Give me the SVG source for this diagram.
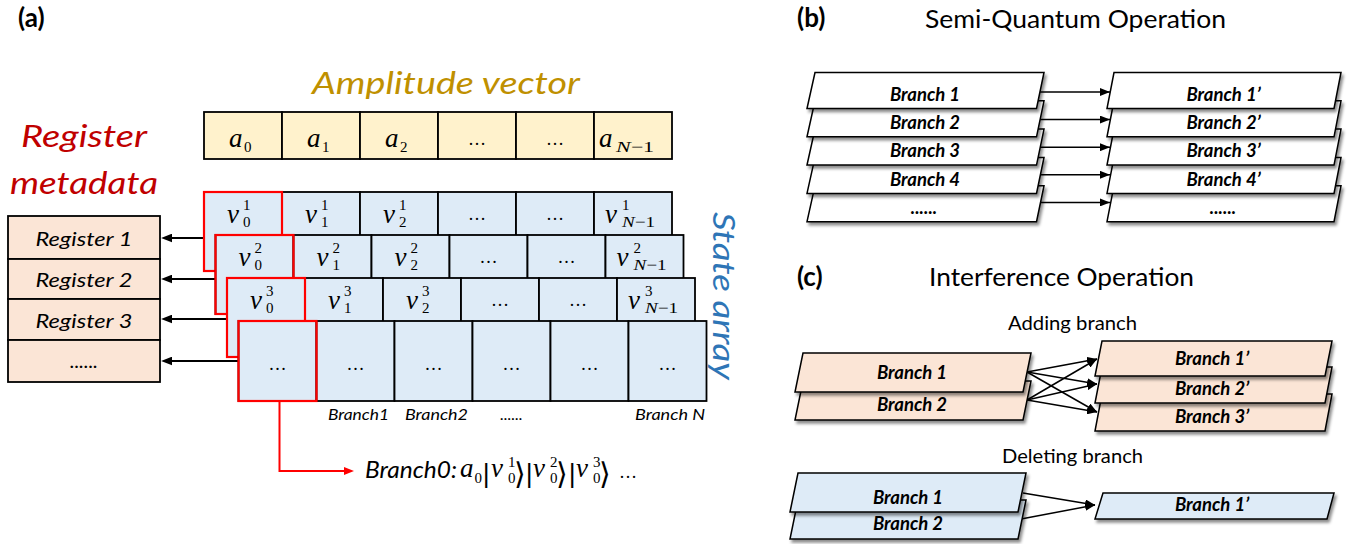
<svg xmlns="http://www.w3.org/2000/svg" width="1364" height="544" viewBox="0 0 1364 544">
<defs>
<style>
.hd{font-family:Lato,"Liberation Sans",sans-serif;font-weight:bold;font-size:26px}
.cap{font-family:Lato,"Liberation Sans",sans-serif;font-size:25px;text-anchor:middle}
.sub{font-family:Lato,"Liberation Sans",sans-serif;font-size:20px;text-anchor:middle}
.big{font-family:Lato,"Liberation Sans",sans-serif;font-style:italic;font-size:30px;text-anchor:middle}
.amp{fill:#FFF2CC;stroke:#000;stroke-width:1.8}
.cell{fill:#DEEBF7;stroke:#000;stroke-width:1.8}
.redb{fill:none;stroke:#FF0000;stroke-width:2.2}
.reg{fill:#FBE5D6;stroke:#000;stroke-width:1.8}
.pw{fill:#FFFFFF;stroke:#000;stroke-width:1.5;filter:url(#sh)}
.pp{fill:#FBE5D6;stroke:#000;stroke-width:1.5;filter:url(#sh)}
.pb{fill:#DEEBF7;stroke:#000;stroke-width:1.5;filter:url(#sh)}
.bl{font-family:Lato,"Liberation Sans",sans-serif;font-weight:bold;font-style:italic;font-size:18.5px;text-anchor:middle;fill:#000}
.mv{font-family:"Liberation Serif",serif;font-style:italic;font-size:27px}
.md{font-family:"Liberation Serif",serif;font-size:15px}
.el{font-family:"Liberation Serif",serif;font-size:18px;text-anchor:middle}
.bar{font-family:"DejaVu Sans",sans-serif;font-size:25px}
.ang{font-family:"DejaVu Sans",sans-serif;font-size:30px}
.rt{font-family:Lato,"Liberation Sans",sans-serif;font-style:italic;font-size:20px;text-anchor:middle}
.bt{font-family:Lato,"Liberation Sans",sans-serif;font-style:italic;font-size:16px;text-anchor:middle}
.ln{fill:none;stroke:#000;stroke-width:1.5;marker-end:url(#ah)}
.lnb{fill:none;stroke:#000;stroke-width:2;marker-end:url(#ahL)}
.lnr{fill:none;stroke:#FF0000;stroke-width:2;marker-end:url(#ahR)}
</style>
<filter id="sh" x="-5%" y="-20%" width="115%" height="170%">
<feDropShadow dx="2" dy="3" stdDeviation="1.6" flood-color="#000" flood-opacity="0.45"/>
</filter>
<marker id="ah" viewBox="0 0 10 8" refX="10" refY="4" markerWidth="10" markerHeight="8" markerUnits="userSpaceOnUse" orient="auto"><path d="M0,0 L10,4 L0,8 z" fill="#000"/></marker>
<marker id="ahL" viewBox="0 0 10 8" refX="1" refY="4" markerWidth="11" markerHeight="9" markerUnits="userSpaceOnUse" orient="auto"><path d="M0,0 L10,4 L0,8 z" fill="#000"/></marker>
<marker id="ahR" viewBox="0 0 10 8" refX="1" refY="4" markerWidth="10" markerHeight="8" markerUnits="userSpaceOnUse" orient="auto"><path d="M0,0 L10,4 L0,8 z" fill="#FF0000"/></marker>
</defs>
<rect x="0" y="0" width="1364" height="544" fill="#FFFFFF"/>

<!-- ===== (a) ===== -->
<g id="label-a"><text class="hd" x="18" y="27">(a)</text></g>
<g id="amplitude-title"><text class="big" x="446" y="94" fill="#BF9000" textLength="268" lengthAdjust="spacingAndGlyphs">Amplitude vector</text></g>
<g id="register-title">
<text class="big" x="84" y="147" fill="#C00000" font-size="32" textLength="126" lengthAdjust="spacingAndGlyphs">Register</text>
<text class="big" x="84" y="194" fill="#C00000" font-size="32" textLength="148" lengthAdjust="spacingAndGlyphs">metadata</text>
</g>
<g id="state-array-title"><text class="big" transform="translate(713,296) rotate(90)" fill="#2E75B6" font-size="31" textLength="168" lengthAdjust="spacingAndGlyphs">State array</text></g>

<g id="connectors-a">
<line class="lnb" x1="204" y1="238" x2="171" y2="238"/>
<line class="lnb" x1="215.5" y1="279" x2="171" y2="279"/>
<line class="lnb" x1="227" y1="319" x2="171" y2="319"/>
<line class="lnb" x1="238.5" y1="361" x2="171" y2="361"/>
<polyline class="lnr" points="279.5,401 279.5,471 345,471"/>
</g>

<!-- amplitude vector -->
<g id="amp-0"><rect class="amp" x="204" y="112" width="78" height="47"/><text class="mv" x="229" y="147">a</text><text class="md" x="244" y="152">0</text></g>
<g id="amp-1"><rect class="amp" x="282" y="112" width="78" height="47"/><text class="mv" x="307" y="147">a</text><text class="md" x="322" y="152">1</text></g>
<g id="amp-2"><rect class="amp" x="360" y="112" width="78" height="47"/><text class="mv" x="385" y="147">a</text><text class="md" x="400" y="152">2</text></g>
<g id="amp-3"><rect class="amp" x="438" y="112" width="78" height="47"/><text class="el" x="477" y="145">…</text></g>
<g id="amp-4"><rect class="amp" x="516" y="112" width="78" height="47"/><text class="el" x="555" y="145">…</text></g>
<g id="amp-5"><rect class="amp" x="594" y="112" width="78" height="47"/><text class="mv" x="599" y="147">a</text><text class="md" x="616" y="152" font-size="17" textLength="38" lengthAdjust="spacingAndGlyphs"><tspan font-style="italic">N</tspan>−1</text></g>

<!-- register metadata table -->
<g id="register-1"><rect class="reg" x="8" y="216" width="152" height="43"/><text class="rt" x="84" y="246" textLength="97" lengthAdjust="spacingAndGlyphs">Register 1</text></g>
<g id="register-2"><rect class="reg" x="8" y="259" width="152" height="40"/><text class="rt" x="84" y="287" textLength="97" lengthAdjust="spacingAndGlyphs">Register 2</text></g>
<g id="register-3"><rect class="reg" x="8" y="299" width="152" height="41"/><text class="rt" x="84" y="328" textLength="97" lengthAdjust="spacingAndGlyphs">Register 3</text></g>
<g id="register-4"><rect class="reg" x="8" y="340" width="152" height="42"/><text class="rt" x="84" y="368">......</text></g>

<!-- state array row 1 -->
<g id="state-row-1">
<rect class="cell" x="204" y="192" width="78" height="79"/>
<rect class="cell" x="282" y="192" width="78" height="79"/>
<rect class="cell" x="360" y="192" width="78" height="79"/>
<rect class="cell" x="438" y="192" width="78" height="79"/>
<rect class="cell" x="516" y="192" width="78" height="79"/>
<rect class="cell" x="594" y="192" width="78" height="79"/>
<rect class="redb" x="204" y="192" width="78" height="79"/>
<text class="mv" x="227" y="222.5">v</text><text class="md" x="243" y="209.5">1</text><text class="md" x="243" y="226.5">0</text>
<text class="mv" x="305" y="222.5">v</text><text class="md" x="321" y="209.5">1</text><text class="md" x="321" y="226.5">1</text>
<text class="mv" x="383" y="222.5">v</text><text class="md" x="399" y="209.5">1</text><text class="md" x="399" y="226.5">2</text>
<text class="el" x="477" y="219.5">…</text><text class="el" x="555" y="219.5">…</text>
<text class="mv" x="605" y="222.5">v</text><text class="md" x="622" y="209.5">1</text><text class="md" x="622" y="226.5" textLength="33" lengthAdjust="spacingAndGlyphs"><tspan font-style="italic">N</tspan>−1</text>
</g>
<!-- row 2 -->
<g id="state-row-2">
<rect class="cell" x="215.5" y="235" width="78" height="79"/>
<rect class="cell" x="293.5" y="235" width="78" height="79"/>
<rect class="cell" x="371.5" y="235" width="78" height="79"/>
<rect class="cell" x="449.5" y="235" width="78" height="79"/>
<rect class="cell" x="527.5" y="235" width="78" height="79"/>
<rect class="cell" x="605.5" y="235" width="78" height="79"/>
<rect class="redb" x="215.5" y="235" width="78" height="79"/>
<text class="mv" x="238.5" y="265.5">v</text><text class="md" x="254.5" y="252.5">2</text><text class="md" x="254.5" y="269.5">0</text>
<text class="mv" x="316.5" y="265.5">v</text><text class="md" x="332.5" y="252.5">2</text><text class="md" x="332.5" y="269.5">1</text>
<text class="mv" x="394.5" y="265.5">v</text><text class="md" x="410.5" y="252.5">2</text><text class="md" x="410.5" y="269.5">2</text>
<text class="el" x="488.5" y="262.5">…</text><text class="el" x="566.5" y="262.5">…</text>
<text class="mv" x="616.5" y="265.5">v</text><text class="md" x="633.5" y="252.5">2</text><text class="md" x="633.5" y="269.5" textLength="33" lengthAdjust="spacingAndGlyphs"><tspan font-style="italic">N</tspan>−1</text>
</g>
<!-- row 3 -->
<g id="state-row-3">
<rect class="cell" x="227" y="278" width="78" height="79"/>
<rect class="cell" x="305" y="278" width="78" height="79"/>
<rect class="cell" x="383" y="278" width="78" height="79"/>
<rect class="cell" x="461" y="278" width="78" height="79"/>
<rect class="cell" x="539" y="278" width="78" height="79"/>
<rect class="cell" x="617" y="278" width="78" height="79"/>
<rect class="redb" x="227" y="278" width="78" height="79"/>
<text class="mv" x="250" y="308.5">v</text><text class="md" x="266" y="295.5">3</text><text class="md" x="266" y="312.5">0</text>
<text class="mv" x="328" y="308.5">v</text><text class="md" x="344" y="295.5">3</text><text class="md" x="344" y="312.5">1</text>
<text class="mv" x="406" y="308.5">v</text><text class="md" x="422" y="295.5">3</text><text class="md" x="422" y="312.5">2</text>
<text class="el" x="500" y="305.5">…</text><text class="el" x="578" y="305.5">…</text>
<text class="mv" x="628" y="308.5">v</text><text class="md" x="645" y="295.5">3</text><text class="md" x="645" y="312.5" textLength="33" lengthAdjust="spacingAndGlyphs"><tspan font-style="italic">N</tspan>−1</text>
</g>
<!-- row 4 -->
<g id="state-row-4">
<rect class="cell" x="238.5" y="321" width="78" height="80"/>
<rect class="cell" x="316.5" y="321" width="78" height="80"/>
<rect class="cell" x="394.5" y="321" width="78" height="80"/>
<rect class="cell" x="472.5" y="321" width="78" height="80"/>
<rect class="cell" x="550.5" y="321" width="78" height="80"/>
<rect class="cell" x="628.5" y="321" width="78" height="80"/>
<rect class="redb" x="238.5" y="321" width="78" height="80"/>
<text class="el" x="277.5" y="369.5">…</text><text class="el" x="355.5" y="369.5">…</text><text class="el" x="433.5" y="369.5">…</text>
<text class="el" x="511.5" y="369.5">…</text><text class="el" x="589.5" y="369.5">…</text><text class="el" x="667.5" y="369.5">…</text>
</g>
<g id="branch-labels">
<text class="bt" x="358.5" y="420" textLength="61" lengthAdjust="spacingAndGlyphs">Branch1</text>
<text class="bt" x="436.5" y="420" textLength="63" lengthAdjust="spacingAndGlyphs">Branch2</text>
<text class="bt" x="511.5" y="420">......</text>
<text class="bt" x="670" y="420" textLength="70" lengthAdjust="spacingAndGlyphs">Branch N</text>
</g>
<g id="branch0-formula">
<text x="365" y="478" font-family="Lato, 'Liberation Sans', sans-serif" font-style="italic" font-size="23" textLength="92" lengthAdjust="spacingAndGlyphs">Branch0:</text>
<text class="mv" x="460" y="477">a</text><text class="md" x="474.5" y="483">0</text>
<text class="bar" x="482" y="482">|</text>
<text class="mv" x="491" y="477">v</text><text class="md" x="508" y="467">1</text><text class="md" x="508" y="483">0</text>
<text class="ang" x="514" y="484">⟩</text>
<text class="bar" x="525" y="482">|</text>
<text class="mv" x="533" y="477">v</text><text class="md" x="550" y="467">2</text><text class="md" x="550" y="483">0</text>
<text class="ang" x="556" y="484">⟩</text>
<text class="bar" x="568" y="482">|</text>
<text class="mv" x="576" y="477">v</text><text class="md" x="593" y="467">3</text><text class="md" x="593" y="483">0</text>
<text class="ang" x="599" y="484">⟩</text>
<text class="el" x="628" y="478" font-size="22">…</text>
</g>

<!-- ===== (b) ===== -->
<g id="label-b"><text class="hd" x="797" y="27">(b)</text></g>
<g id="title-b"><text class="cap" x="1075.5" y="28" textLength="301" lengthAdjust="spacingAndGlyphs">Semi-Quantum Operation</text></g>

<g id="connectors-b">
<line class="ln" x1="1040" y1="92" x2="1110" y2="92"/>
<line class="ln" x1="1040" y1="119.6" x2="1110" y2="119.6"/>
<line class="ln" x1="1040" y1="147.2" x2="1110" y2="147.2"/>
<line class="ln" x1="1040" y1="174.8" x2="1110" y2="174.8"/>
<line class="ln" x1="1040" y1="202.4" x2="1110" y2="202.4"/>
</g>

<g id="b-left-5"><polygon class="pw" points="815,185.7 1044,185.7 1036.5,221.7 807,221.7"/><text class="bl" x="924" y="213.9">......</text></g>
<g id="b-left-4"><polygon class="pw" points="815,157.4 1044,157.4 1036.5,193.4 807,193.4"/><text class="bl" x="925" y="185.6">Branch 4</text></g>
<g id="b-left-3"><polygon class="pw" points="815,129.1 1044,129.1 1036.5,165.1 807,165.1"/><text class="bl" x="925" y="157.3">Branch 3</text></g>
<g id="b-left-2"><polygon class="pw" points="815,100.8 1044,100.8 1036.5,136.8 807,136.8"/><text class="bl" x="925" y="129">Branch 2</text></g>
<g id="b-left-1"><polygon class="pw" points="815,72.5 1044,72.5 1036.5,108.5 807,108.5"/><text class="bl" x="925" y="100.7">Branch 1</text></g>

<g id="b-right-5"><polygon class="pw" points="1114,185.7 1341,185.7 1334,221.7 1107,221.7"/><text class="bl" x="1223" y="213.9">......</text></g>
<g id="b-right-4"><polygon class="pw" points="1114,157.4 1341,157.4 1334,193.4 1107,193.4"/><text class="bl" x="1223.5" y="185.6">Branch 4’</text></g>
<g id="b-right-3"><polygon class="pw" points="1114,129.1 1341,129.1 1334,165.1 1107,165.1"/><text class="bl" x="1223.5" y="157.3">Branch 3’</text></g>
<g id="b-right-2"><polygon class="pw" points="1114,100.8 1341,100.8 1334,136.8 1107,136.8"/><text class="bl" x="1223.5" y="129">Branch 2’</text></g>
<g id="b-right-1"><polygon class="pw" points="1114,72.5 1341,72.5 1334,108.5 1107,108.5"/><text class="bl" x="1223.5" y="100.7">Branch 1’</text></g>

<!-- ===== (c) ===== -->
<g id="label-c"><text class="hd" x="797" y="286">(c)</text></g>
<g id="title-c"><text class="cap" x="1061.5" y="286" textLength="265" lengthAdjust="spacingAndGlyphs">Interference Operation</text></g>
<g id="label-adding"><text class="sub" x="1072.5" y="330" textLength="129" lengthAdjust="spacingAndGlyphs">Adding branch</text></g>
<g id="label-deleting"><text class="sub" x="1072.5" y="463" textLength="141" lengthAdjust="spacingAndGlyphs">Deleting branch</text></g>

<g id="connectors-c">
<line class="ln" x1="1027" y1="372" x2="1097" y2="359"/>
<line class="ln" x1="1027" y1="372" x2="1097" y2="384"/>
<line class="ln" x1="1027" y1="372" x2="1097" y2="412"/>
<line class="ln" x1="1027" y1="400" x2="1097" y2="359"/>
<line class="ln" x1="1027" y1="400" x2="1097" y2="384"/>
<line class="ln" x1="1027" y1="400" x2="1097" y2="412"/>
<line class="ln" x1="1023" y1="493" x2="1095" y2="505"/>
<line class="ln" x1="1021" y1="519" x2="1095" y2="505"/>
</g>

<g id="add-left-2"><polygon class="pp" points="803,381 1031,381 1023,420 795,420"/><text class="bl" x="912" y="411">Branch 2</text></g>
<g id="add-left-1"><polygon class="pp" points="803,353 1031,353 1023,392 795,392"/><text class="bl" x="912" y="379">Branch 1</text></g>

<g id="add-right-3"><polygon class="pp" points="1102,394 1332,394 1325,431 1095,431"/><text class="bl" x="1212" y="423">Branch 3’</text></g>
<g id="add-right-2"><polygon class="pp" points="1102,367 1332,367 1325,403 1095,403"/><text class="bl" x="1212" y="395">Branch 2’</text></g>
<g id="add-right-1"><polygon class="pp" points="1102,341 1332,341 1325,376 1095,376"/><text class="bl" x="1212" y="365">Branch 1’</text></g>

<g id="del-left-2"><polygon class="pb" points="798,500 1026,500 1018,539 790,539"/><text class="bl" x="908" y="530">Branch 2</text></g>
<g id="del-left-1"><polygon class="pb" points="798,473 1026,473 1018,512 790,512"/><text class="bl" x="908" y="504">Branch 1</text></g>
<g id="del-right-1"><polygon class="pb" points="1103,493 1334,493 1327,519 1095,519"/><text class="bl" x="1212" y="511">Branch 1’</text></g>
</svg>
